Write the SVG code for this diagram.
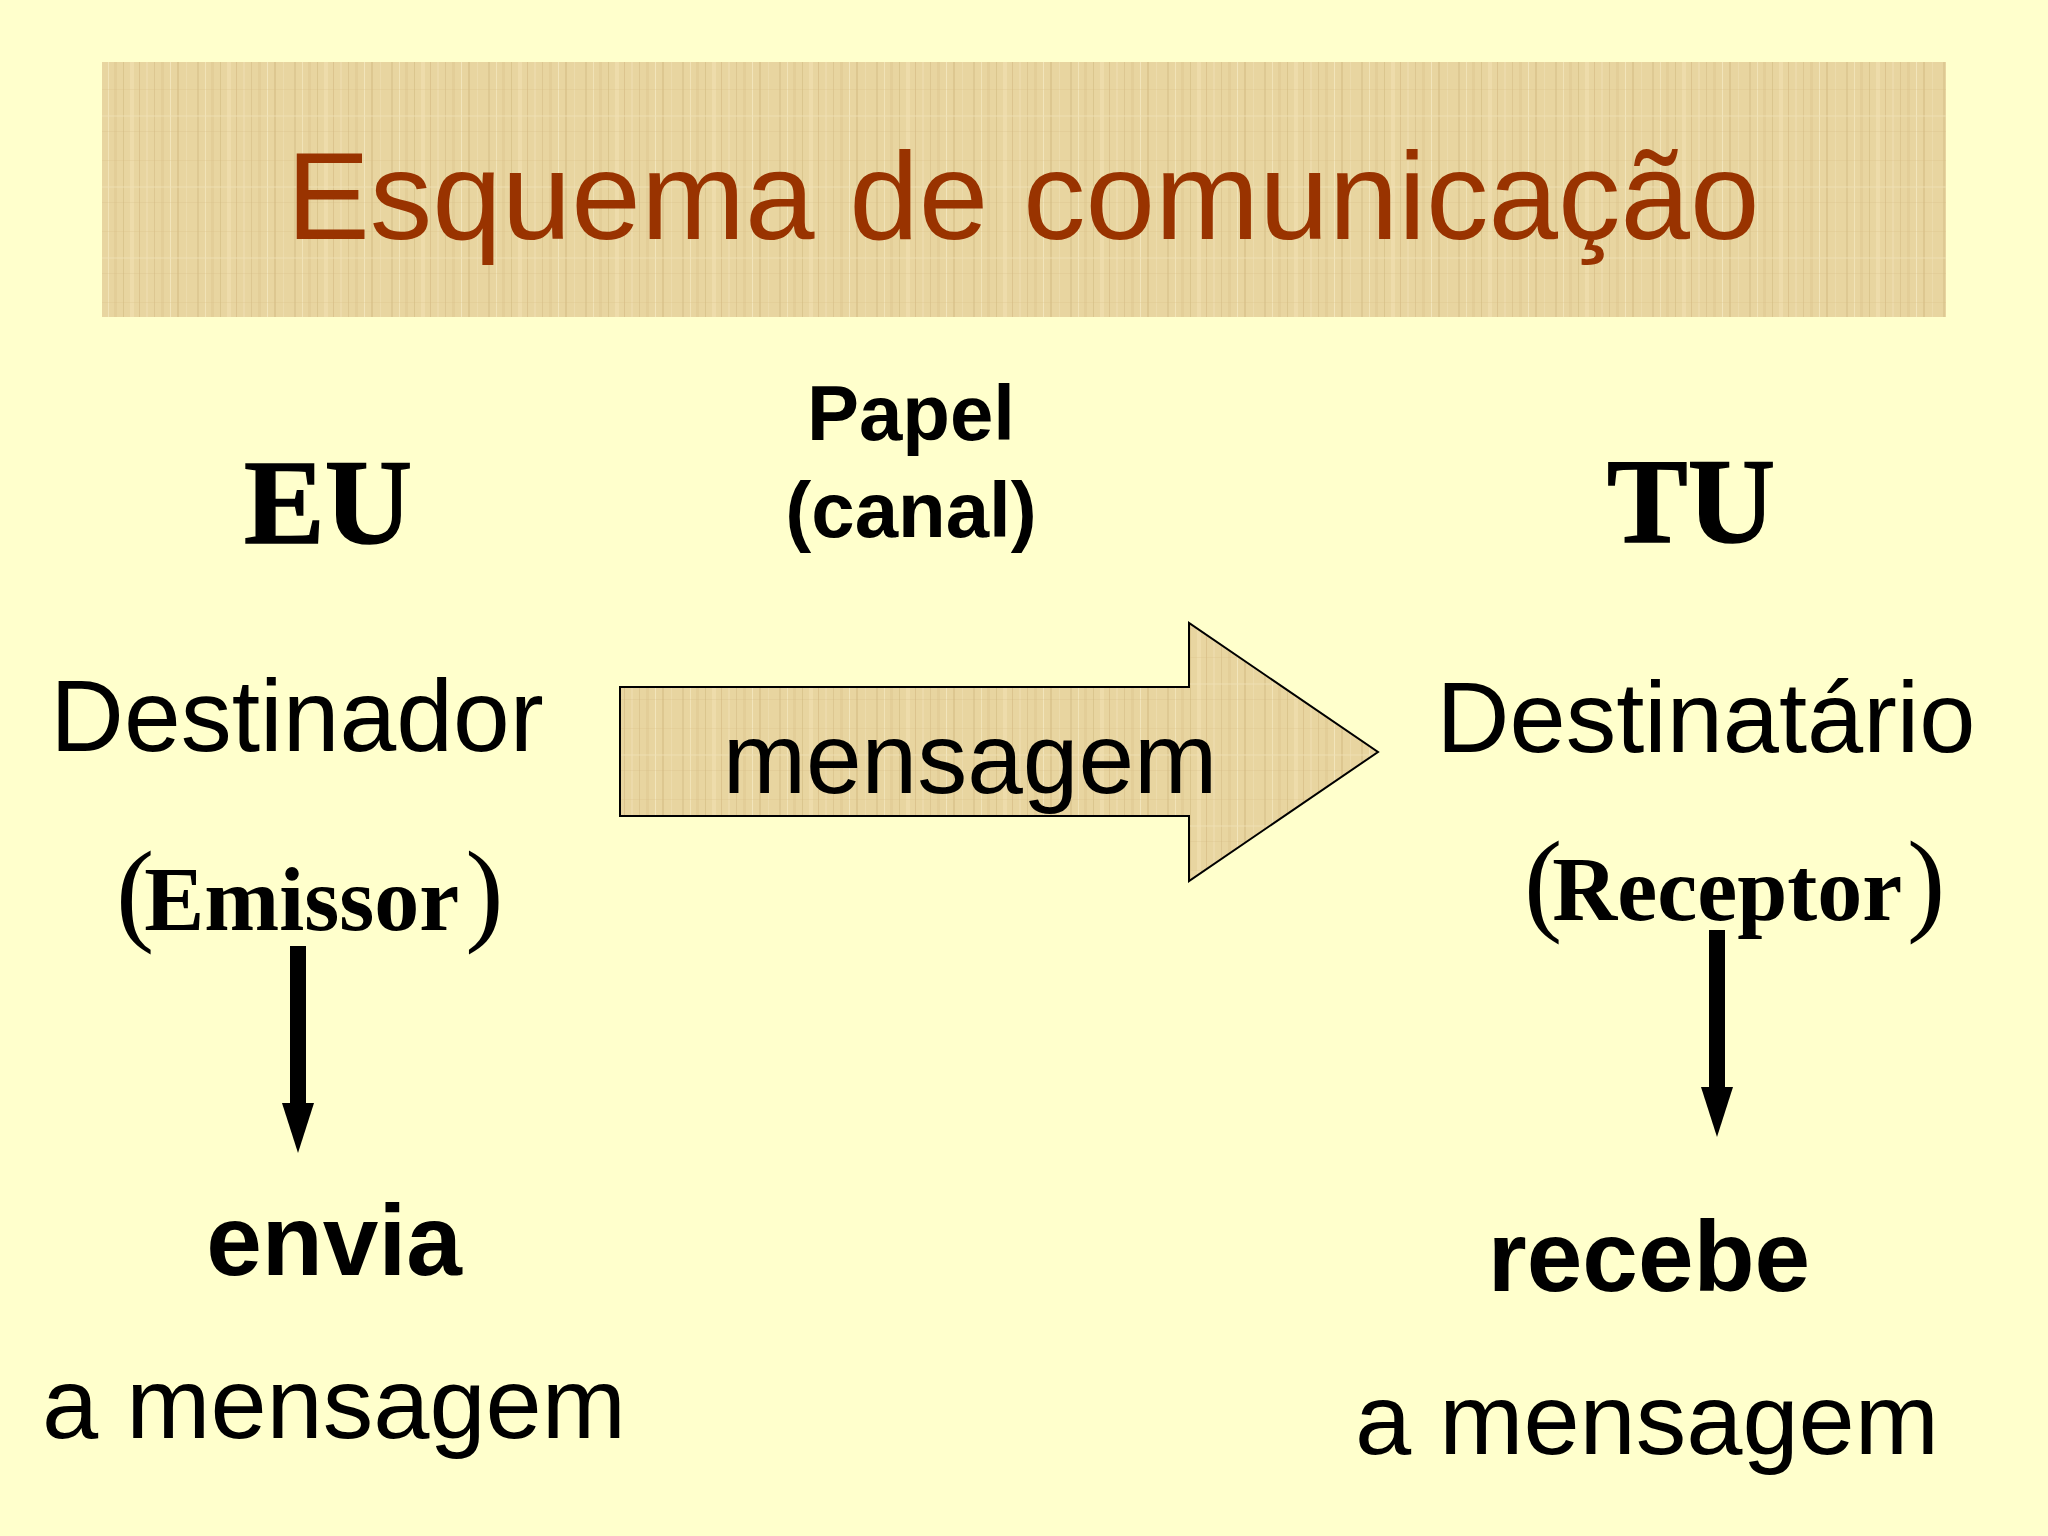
<svg xmlns="http://www.w3.org/2000/svg" width="2048" height="1536" viewBox="0 0 2048 1536">
  <style>
    .sans { font-family: "Liberation Sans", Arial, sans-serif; fill: #000; }
    .serif { font-family: "Liberation Serif", "Times New Roman", serif; font-weight: bold; fill: #000; }
    .paren { font-weight: normal; font-size: 115px; }
    .b { font-weight: bold; }
    .big { font-size: 101px; }
    .mid { text-anchor: middle; }
  </style>
  <defs>
    <pattern id="papyrus" patternUnits="userSpaceOnUse" width="97" height="71">
      <rect width="97" height="71" fill="#e8d5a0"/>
      <rect x="3" width="2" height="71" fill="#d4bb82" opacity="0.45"/>
      <rect x="11" width="1" height="71" fill="#f4e6bd" opacity="0.8"/>
      <rect x="17" width="3" height="71" fill="#dcc38c" opacity="0.4"/>
      <rect x="26" width="1" height="71" fill="#c9ae74" opacity="0.4"/>
      <rect x="33" width="4" height="71" fill="#f1e1b3" opacity="0.6"/>
      <rect x="42" width="1" height="71" fill="#cfb47b" opacity="0.5"/>
      <rect x="49" width="2" height="71" fill="#efddae" opacity="0.7"/>
      <rect x="57" width="1" height="71" fill="#d1b77f" opacity="0.45"/>
      <rect x="64" width="3" height="71" fill="#dcc28b" opacity="0.4"/>
      <rect x="73" width="1" height="71" fill="#f5e8c2" opacity="0.8"/>
      <rect x="80" width="2" height="71" fill="#ccb178" opacity="0.4"/>
      <rect x="89" width="1" height="71" fill="#efdfb0" opacity="0.7"/>
      <rect y="18" width="97" height="1" fill="#d6bd85" opacity="0.25"/>
      <rect y="44" width="97" height="2" fill="#f1e2b6" opacity="0.4"/>
      <rect y="60" width="97" height="1" fill="#cfb57c" opacity="0.2"/>
    </pattern>
    <marker id="head" viewBox="0 0 50 32" refX="0" refY="16" markerUnits="userSpaceOnUse" markerWidth="50" markerHeight="32" orient="auto">
      <path d="M0,0 L50,16 L0,32 Z" fill="#000"/>
    </marker>
  </defs>

  <rect width="2048" height="1536" fill="#ffffcc"/>

  <g id="title">
    <rect x="102" y="62" width="1844" height="255" fill="url(#papyrus)"/>
    <text x="1023" y="239" text-anchor="middle" font-family="'Liberation Sans', Arial, sans-serif" font-size="125" fill="#993300">Esquema de comunicação</text>
  </g>

  <g id="eu">
    <text class="serif mid" x="328" y="543" font-size="121" stroke="#000" stroke-width="1.5">EU</text>
  </g>

  <g id="canal">
    <text class="sans b mid" x="911" y="440" font-size="78">Papel</text>
    <text class="sans b mid" x="911" y="537" font-size="78">(canal)</text>
  </g>

  <g id="tu">
    <text class="serif mid" x="1691" y="542" font-size="121" stroke="#000" stroke-width="1.5">TU</text>
  </g>

  <g id="destinador">
    <text class="sans mid" x="297" y="751" font-size="102">Destinador</text>
    <text class="serif" x="116" y="930" font-size="90"><tspan class="paren" letter-spacing="-10">(</tspan><tspan>Emissor</tspan><tspan class="paren" dx="6">)</tspan></text>
  </g>

  <g id="mensagem">
    <path d="M620,687 L1189,687 L1189,623 L1378,752 L1189,881 L1189,816 L620,816 Z" fill="url(#papyrus)" stroke="#000" stroke-width="2"/>
    <text class="sans mid" x="970" y="793" font-size="100">mensagem</text>
  </g>

  <g id="destinatario">
    <text class="sans mid" x="1706" y="752" font-size="101">Destinatário</text>
    <text class="serif" x="1524" y="920" font-size="90"><tspan class="paren" letter-spacing="-10">(</tspan><tspan>Receptor</tspan><tspan class="paren" dx="5">)</tspan></text>
  </g>

  <g id="envia">
    <text class="sans b mid" x="334" y="1275" font-size="100">envia</text>
    <text class="sans mid big" x="334" y="1438">a mensagem</text>
  </g>

  <g id="recebe">
    <text class="sans b mid" x="1649" y="1291" font-size="100">recebe</text>
    <text class="sans mid big" x="1647" y="1454">a mensagem</text>
  </g>

  <g id="connectors">
    <line x1="298" y1="946" x2="298" y2="1103" stroke="#000" stroke-width="16" marker-end="url(#head)"/>
    <line x1="1717" y1="930" x2="1717" y2="1087" stroke="#000" stroke-width="16" marker-end="url(#head)"/>
  </g>
</svg>
